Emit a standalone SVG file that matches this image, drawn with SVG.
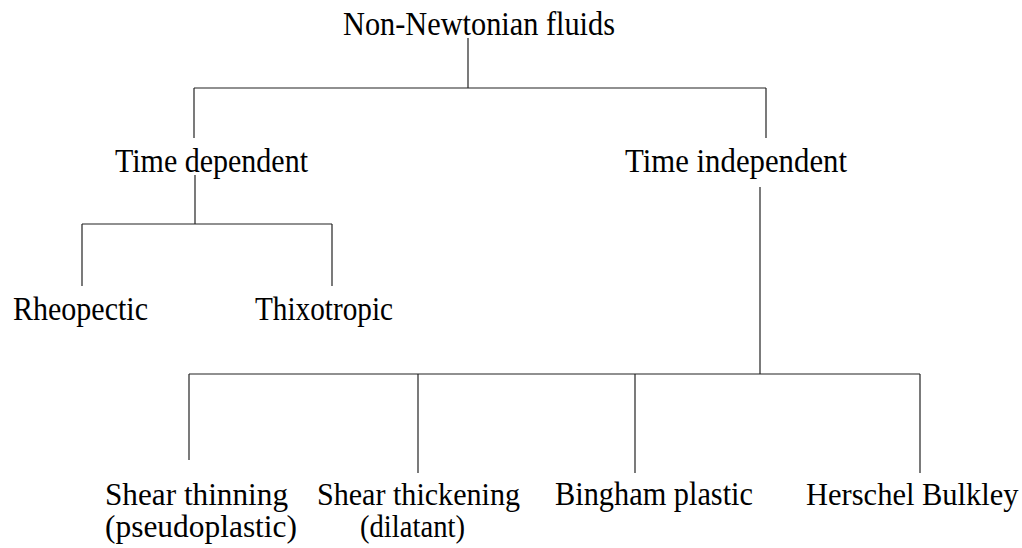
<svg xmlns="http://www.w3.org/2000/svg" width="1022" height="548" viewBox="0 0 1022 548">
<style>
text{font-family:"Liberation Serif","Times New Roman",serif;font-size:33px;fill:#000}
.s{font-size:31px}
.c line{stroke:#222;stroke-width:1.2;fill:none}
</style>
<rect width="1022" height="548" fill="#fff"/>
<g id="connectors" class="c">
<line x1="468" y1="38" x2="468" y2="88"/>
<line x1="194" y1="88" x2="766" y2="88"/>
<line x1="194" y1="88" x2="194" y2="138"/>
<line x1="766" y1="88" x2="766" y2="138"/>
<line x1="195" y1="175" x2="195" y2="224"/>
<line x1="82" y1="224" x2="332" y2="224"/>
<line x1="82" y1="224" x2="82" y2="286"/>
<line x1="332" y1="224" x2="332" y2="286"/>
<line x1="760" y1="187" x2="760" y2="374"/>
<line x1="189" y1="374" x2="920" y2="374"/>
<line x1="189" y1="374" x2="189" y2="460"/>
<line x1="418" y1="374" x2="418" y2="473"/>
<line x1="635" y1="374" x2="635" y2="473"/>
<line x1="920" y1="374" x2="920" y2="473"/>
</g>
<g id="root"><text x="343" y="35" textLength="272" lengthAdjust="spacingAndGlyphs">Non-Newtonian fluids</text></g>
<g id="time-dependent"><text x="115" y="171.5" textLength="193" lengthAdjust="spacingAndGlyphs">Time dependent</text></g>
<g id="time-independent"><text x="625" y="171.5" textLength="222" lengthAdjust="spacingAndGlyphs">Time independent</text></g>
<g id="rheopectic"><text x="13" y="320" textLength="135" lengthAdjust="spacingAndGlyphs">Rheopectic</text></g>
<g id="thixotropic"><text x="255" y="320" textLength="138" lengthAdjust="spacingAndGlyphs">Thixotropic</text></g>
<g id="shear-thinning"><text class="s" x="105" y="505" textLength="183" lengthAdjust="spacingAndGlyphs">Shear thinning</text><text class="s" x="105" y="537" textLength="192" lengthAdjust="spacingAndGlyphs">(pseudoplastic)</text></g>
<g id="shear-thickening"><text class="s" x="317" y="505" textLength="203" lengthAdjust="spacingAndGlyphs">Shear thickening</text><text class="s" x="360" y="537" textLength="105" lengthAdjust="spacingAndGlyphs">(dilatant)</text></g>
<g id="bingham"><text x="555" y="505" textLength="198" lengthAdjust="spacingAndGlyphs">Bingham plastic</text></g>
<g id="herschel"><text x="806" y="505" style="font-size:30.5px">Herschel Bulkley</text></g>
</svg>
